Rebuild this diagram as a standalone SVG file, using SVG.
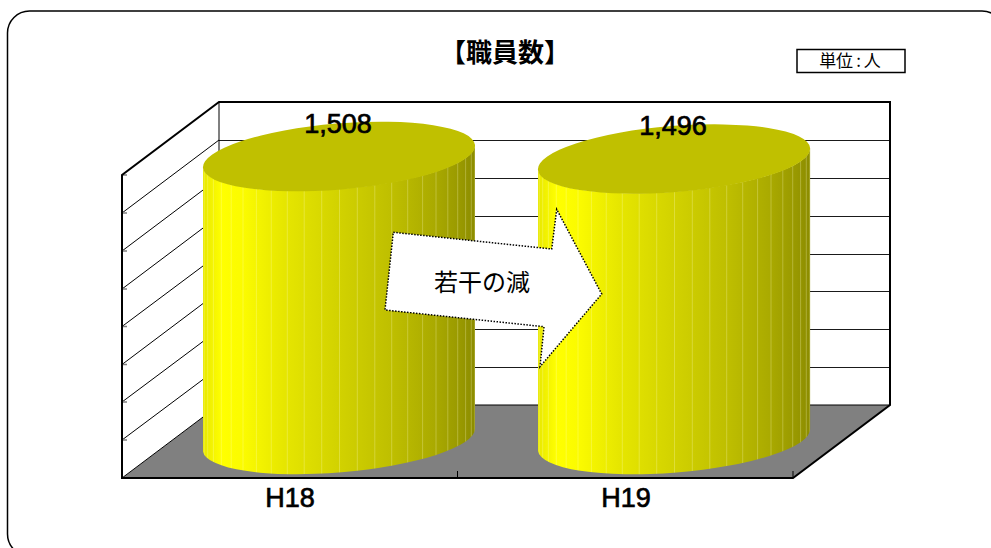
<svg xmlns="http://www.w3.org/2000/svg" xmlns:xlink="http://www.w3.org/1999/xlink" width="991" height="548" viewBox="0 0 991 548">
<style>
.frame{fill:#fff;stroke:#000;stroke-width:1.5}
.axis{stroke:#000;stroke-width:2;fill:none}
.thin{stroke:#000;stroke-width:1;fill:none}
.grid{stroke:#1a1a1a;stroke-width:1;fill:none}
.tick{stroke:#808080;stroke-width:1.5;fill:none}
.side{fill:url(#cylGrad)}
.top{fill:#C0C000}
.stripe{stroke:#FFFFC8;stroke-opacity:0.35;stroke-width:0.8;fill:none}
.num{font-family:"Liberation Sans",Arial,sans-serif;font-size:27px;fill:#000;stroke:#000;stroke-width:0.7;text-anchor:middle}
.cat{font-family:"Liberation Sans",Arial,sans-serif;font-size:27px;fill:#000;stroke:#000;stroke-width:0.7;text-anchor:middle}
.jp{font-family:"Noto Sans CJK JP","Liberation Sans",sans-serif;fill:#000;text-anchor:middle}
</style>
<defs>
<linearGradient id="cylGrad" x1="0" y1="0" x2="1" y2="0">
<stop offset="0" stop-color="#E8E800"/>
<stop offset="0.03" stop-color="#F2F200"/>
<stop offset="0.07" stop-color="#FFFF00"/>
<stop offset="0.15" stop-color="#FBFB00"/>
<stop offset="0.3" stop-color="#E6E600"/>
<stop offset="0.5" stop-color="#D2D200"/>
<stop offset="0.7" stop-color="#BEBE00"/>
<stop offset="0.85" stop-color="#AAAA00"/>
<stop offset="0.95" stop-color="#989800"/>
<stop offset="1" stop-color="#8C8C00"/>
</linearGradient>
<path id="stripes" class="stripe" d="M1.2,0V400M4.7,0V400M10.4,0V400M18.3,0V400M28.2,0V400M40,0V400M53.4,0V400M68.25,0V400M84.3,0V400M101.2,0V400M118.7,0V400M136.5,0V400M154.3,0V400M171.8,0V400M188.7,0V400M204.7,0V400M219.6,0V400M233,0V400M244.8,0V400M254.7,0V400M262.6,0V400M268.3,0V400M271.8,0V400"/>
<clipPath id="clipL"><path d="M203,167.9 L203,451.4 A136.5,33 -4.8 0 0 475,428.6 L475,145.1 A136.5,33 -4.8 0 1 203,167.9 Z"/></clipPath>
<clipPath id="clipR"><path d="M538,169.95 L538,450.95 A136.5,33 -4.6 0 0 810.1,429.05 L810.1,148.05 A136.5,33 -4.6 0 1 538,169.95 Z"/></clipPath>
</defs>

<rect class="frame" x="7.5" y="11" width="996.5" height="545" rx="22" ry="22"/>

<g id="title">
<text class="jp" x="505" y="62" font-size="26" font-weight="bold">【職員数】</text>
</g>
<g id="unit">
<rect x="797" y="49.5" width="108" height="23" fill="#fff" stroke="#000" stroke-width="1.5"/>
<text class="jp" x="850" y="67" font-size="17">単位<tspan dx="3">:</tspan><tspan dx="3">人</tspan></text>
</g>

<g id="chart-frame">
<polygon points="122,478 793,478 890,405 219,405" fill="#808080"/>
<polygon points="122,175 219,102 219,405 122,478" fill="#fff"/>
<rect x="219" y="102" width="671" height="303" fill="#fff"/>
<g class="grid">
<path d="M219,140.5H890M219,178.5H890M219,216.5H890M219,254.5H890M219,291.5H890M219,329.5H890M219,367.5H890"/>
</g>
<g class="thin">
<path d="M122,213 L219,140M122,251 L219,178M122,289 L219,216M122,326.5 L219,254M122,364.5 L219,291.5M122,402 L219,329.5M122,440 L219,367.5"/>
<path d="M219,405 H890 M122,478 L219,405 M219,102 V405"/>
</g>
<g class="tick">
<path d="M122,175h5M122,213h5M122,251h5M122,289h5M122,326.5h5M122,364.5h5M122,402h5M122,440h5"/>
</g>
<path class="axis" d="M122,478 V175 L219,102 H890 V405 L793,478 Z"/>
<path class="thin" d="M457.5,471V478M793,471V478"/>
</g>

<g id="bar-H18">
<path class="side" d="M203,167.9 L203,451.4 A136.5,33 -4.8 0 0 475,428.6 L475,145.1 A136.5,33 -4.8 0 1 203,167.9 Z"/>
<g clip-path="url(#clipL)"><use xlink:href="#stripes" transform="translate(203,100)"/></g>
<ellipse class="top" cx="339" cy="156.5" rx="136.5" ry="33" transform="rotate(-4.8 339 156.5)"/>
<text class="num" x="338" y="133">1,508</text>
</g>

<g id="bar-H19">
<path class="side" d="M538,169.95 L538,450.95 A136.5,33 -4.6 0 0 810.1,429.05 L810.1,148.05 A136.5,33 -4.6 0 1 538,169.95 Z"/>
<g clip-path="url(#clipR)"><use xlink:href="#stripes" transform="translate(538,100)"/></g>
<ellipse class="top" cx="674" cy="159" rx="136.5" ry="33" transform="rotate(-4.6 674 159)"/>
<text class="num" x="673" y="135">1,496</text>
</g>

<g id="labels">
<text class="cat" x="290" y="507">H18</text>
<text class="cat" x="626" y="507">H19</text>
</g>

<g id="arrow">
<polygon points="393.3,232.3 551.7,249 556.7,209.3 601.7,294 540,366.7 544,326.7 385,310" fill="#fff" stroke="#000" stroke-width="1.5" stroke-dasharray="1.5,1.5"/>
<text class="jp" x="482" y="291" font-size="24">若干の減</text>
</g>
</svg>
